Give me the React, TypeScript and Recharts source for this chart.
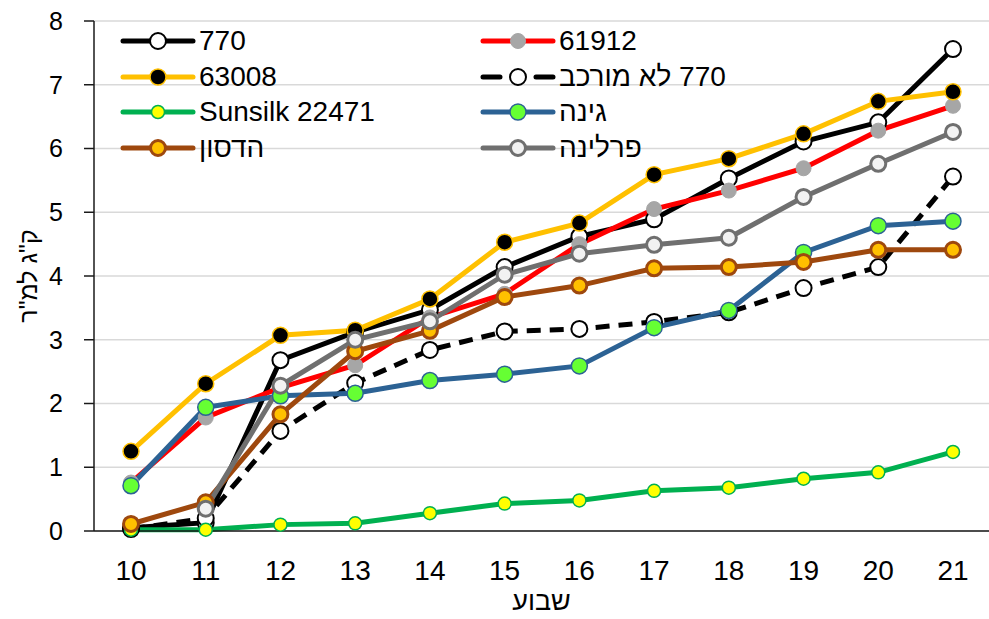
import React from "react";
import { LineChart, Line, XAxis, YAxis, CartesianGrid } from "recharts";

const weeks = [10, 11, 12, 13, 14, 15, 16, 17, 18, 19, 20, 21];

const s770 = [0.05, 0.13, 2.68, 3.12, 3.47, 4.14, 4.62, 4.89, 5.53, 6.11, 6.41, 7.56];
const s61912 = [0.76, 1.78, 2.25, 2.6, 3.35, 3.72, 4.5, 5.05, 5.34, 5.69, 6.28, 6.67];
const s63008 = [1.25, 2.31, 3.07, 3.15, 3.64, 4.53, 4.83, 5.59, 5.84, 6.23, 6.74, 6.89];
const s770Plain = [0.03, 0.2, 1.57, 2.32, 2.84, 3.13, 3.17, 3.28, 3.43, 3.81, 4.14, 5.56];
const sSunsilk = [0.02, 0.02, 0.1, 0.12, 0.28, 0.43, 0.48, 0.63, 0.68, 0.82, 0.92, 1.24];
const sGina = [0.71, 1.94, 2.12, 2.16, 2.36, 2.46, 2.59, 3.19, 3.46, 4.37, 4.79, 4.86];
const sHudson = [0.11, 0.45, 1.83, 2.82, 3.14, 3.67, 3.85, 4.12, 4.14, 4.22, 4.41, 4.41];
const sPerlina = [null, 0.35, 2.28, 3.0, 3.29, 4.02, 4.35, 4.49, 4.6, 5.24, 5.76, 6.26];

const yTicks = [0, 1, 2, 3, 4, 5, 6, 7, 8];

const FONT = '"Liberation Sans", Arial, "DejaVu Sans", sans-serif';

type Series = {
  key: string;
  name: string;
  values: (number | null)[];
  color: string;
  dash?: string;
  r: number;
  fill: string;
  stroke: string;
  sw: number;
  rtl?: boolean;
};

const series: Series[] = [
  { key: "a", name: "770", values: s770, color: "#000000", r: 8, fill: "#ffffff", stroke: "#000000", sw: 2 },
  { key: "b", name: "61912", values: s61912, color: "#ff0000", r: 7.5, fill: "#a6a6a6", stroke: "#a6a6a6", sw: 1 },
  { key: "c", name: "63008", values: s63008, color: "#ffc000", r: 8, fill: "#000000", stroke: "#ffc000", sw: 1.5 },
  { key: "d", name: "770 לא מורכב", values: s770Plain, color: "#000000", dash: "14 9", r: 8, fill: "#ffffff", stroke: "#000000", sw: 2, rtl: true },
  { key: "e", name: "Sunsilk 22471", values: sSunsilk, color: "#00b050", r: 6.5, fill: "#ffff00", stroke: "#00b050", sw: 1.5 },
  { key: "f", name: "גינה", values: sGina, color: "#2c6294", r: 8, fill: "#66ff33", stroke: "#2c6294", sw: 1.5 },
  { key: "g", name: "הדסון", values: sHudson, color: "#9e480e", r: 7.5, fill: "#ffc000", stroke: "#9e480e", sw: 3 },
  { key: "h", name: "פרלינה", values: sPerlina, color: "#6f6f6f", r: 7.5, fill: "#f2f2f2", stroke: "#6f6f6f", sw: 3 },
];

const data = weeks.map((w, i) => {
  const row: Record<string, number | null> = { week: w };
  series.forEach((s) => {
    row[s.key] = s.values[i];
  });
  return row;
});

function makeDot(s: Series) {
  return (p: any) => {
    if (p.cx == null || p.cy == null || p.value == null) return <g key={`${s.key}-${p.index}`} />;
    return (
      <circle
        key={`${s.key}-${p.index}`}
        cx={p.cx}
        cy={p.cy}
        r={s.r}
        fill={s.fill}
        stroke={s.stroke}
        strokeWidth={s.sw}
      />
    );
  };
}

function LegendSample({ s }: { s: Series }) {
  return (
    <svg width={70} height={22} style={{ display: "block", overflow: "visible" }}>
      <line
        x1={0}
        y1={11}
        x2={70}
        y2={11}
        stroke={s.color}
        strokeWidth={5}
        strokeDasharray={s.dash ? "17 36 17" : undefined}
        strokeLinecap="round"
      />
      <circle cx={35} cy={11} r={s.r} fill={s.fill} stroke={s.stroke} strokeWidth={s.sw} />
    </svg>
  );
}

function Legend() {
  const colX = [123, 483];
  const rowY = [41, 76.5, 112, 148];
  return (
    <>
      {series.map((s, i) => (
        <div
          key={s.key}
          style={{
            position: "absolute",
            left: colX[i % 2],
            top: rowY[Math.floor(i / 2)] - 16,
            height: 32,
            display: "flex",
            alignItems: "center",
            fontFamily: FONT,
            fontSize: 28,
            color: "#000",
            whiteSpace: "nowrap",
          }}
        >
          <LegendSample s={s} />
          <span dir={s.rtl ? "rtl" : undefined} style={{ marginLeft: 6, unicodeBidi: "isolate" }}>
            {s.name}
          </span>
        </div>
      ))}
    </>
  );
}

export default function App() {
  return (
    <div style={{ position: "absolute", left: 0, top: 0, width: 989, height: 619, background: "#fff" }}>
      <LineChart width={989} height={619} data={data} margin={{ top: 21, right: 0, bottom: 0, left: 0 }}>
        <CartesianGrid vertical={false} stroke="#d9d9d9" strokeWidth={1.5} />
        <XAxis
          dataKey="week"
          type="category"
          interval={0}
          height={88}
          padding={{ left: 37, right: 36 }}
          axisLine={{ stroke: "#1a1a1a", strokeWidth: 1.5 }}
          tickLine={false}
          tickSize={0}
          tickMargin={29}
          tick={{ fontSize: 28, fill: "#000", fontFamily: FONT }}
          label={{
            value: "שבוע",
            position: "insideBottom",
            offset: 9,
            fontSize: 27,
            fill: "#000",
            fontFamily: FONT,
          }}
        />
        <YAxis
          type="number"
          domain={[0, 8]}
          ticks={yTicks}
          interval={0}
          width={94}
          axisLine={{ stroke: "#1a1a1a", strokeWidth: 1.5 }}
          tickLine={{ stroke: "#1a1a1a", strokeWidth: 1.5 }}
          tickSize={10}
          tickMargin={21}
          tick={{ fontSize: 25, fill: "#000", fontFamily: FONT }}
          label={{
            content: () => (
              <text
                x={28}
                y={276}
                transform="rotate(-90, 28, 276)"
                textAnchor="middle"
                dominantBaseline="central"
                fontSize={25}
                fontFamily={FONT}
                fill="#000"
              >
                ק"ג למ"ר
              </text>
            ),
          }}
        />
        {series.map((s) => (
          <Line
            key={s.key}
            dataKey={s.key}
            name={s.name}
            type="linear"
            stroke={s.color}
            strokeWidth={5}
            strokeDasharray={s.dash}
            dot={makeDot(s)}
            activeDot={false}
            isAnimationActive={false}
          />
        ))}
      </LineChart>
      <Legend />
    </div>
  );
}
